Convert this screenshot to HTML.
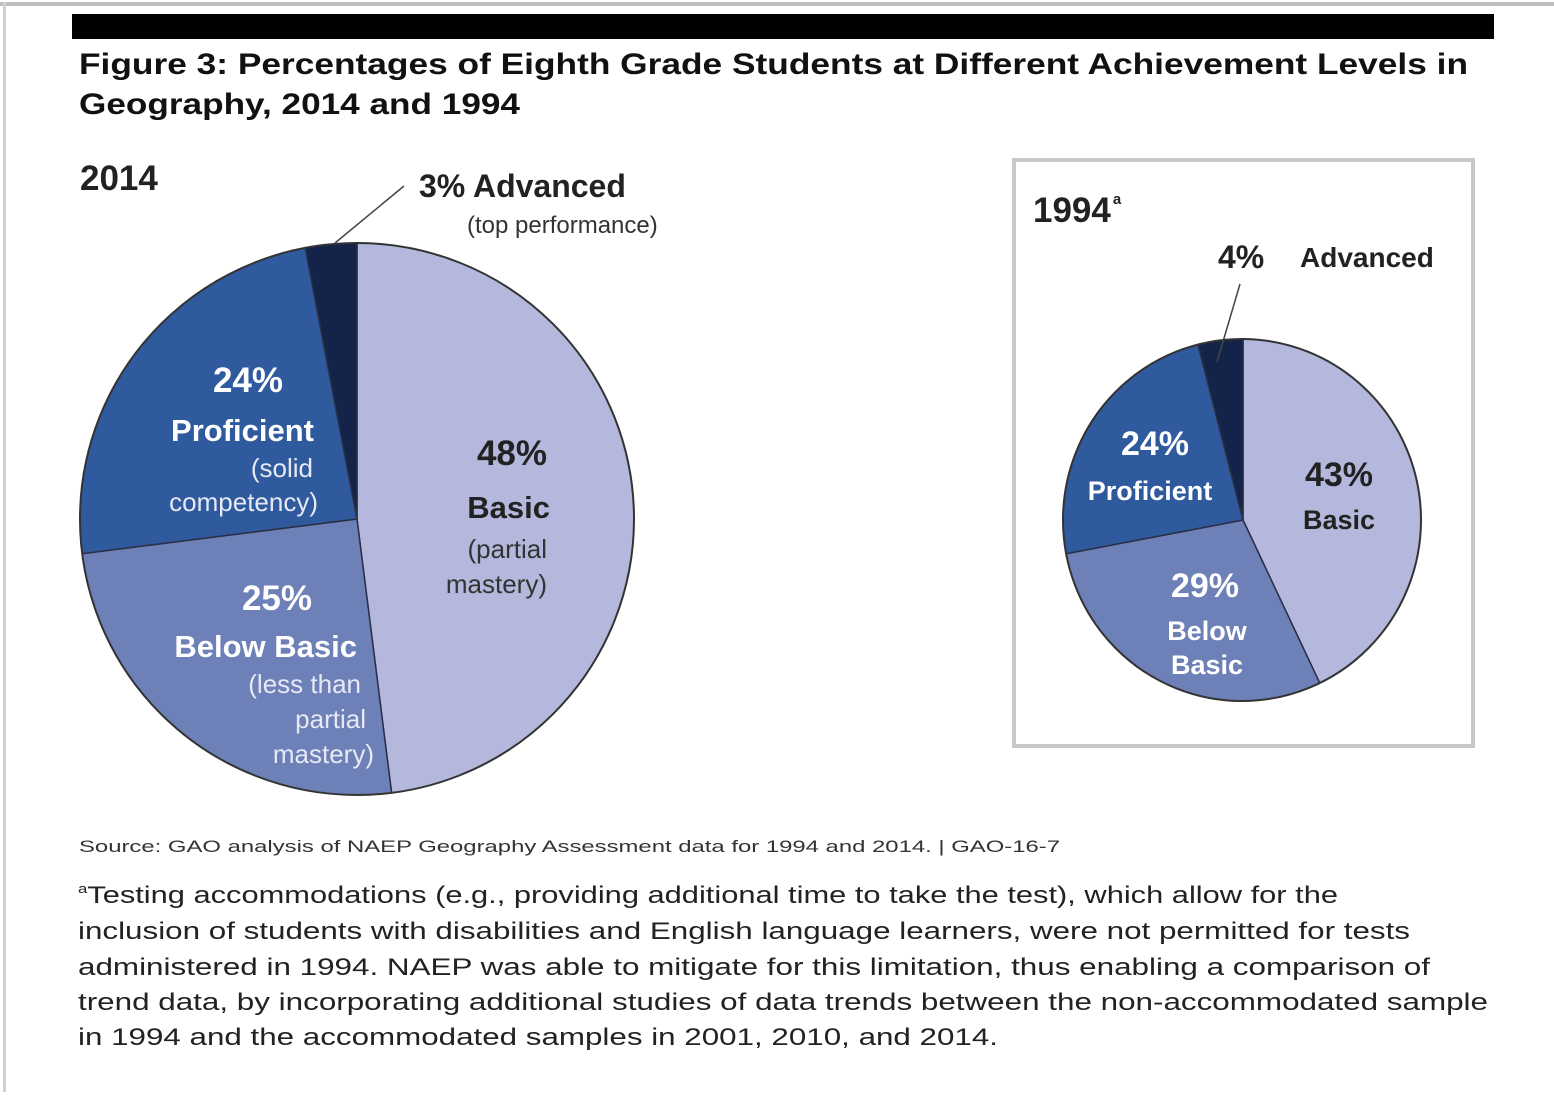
<!DOCTYPE html>
<html><head><meta charset="utf-8">
<style>
html,body{margin:0;padding:0;background:#fff;overflow:hidden;width:1554px;height:1095px;}
svg{display:block;font-family:"Liberation Sans",Arial,sans-serif;}
</style></head>
<body>
<svg width="1554" height="1095" viewBox="0 0 1554 1095">
<defs>
<clipPath id="clip2014"><ellipse cx="357" cy="519" rx="277" ry="276"/></clipPath>
<clipPath id="clip1994"><ellipse cx="1242" cy="520" rx="179" ry="181"/></clipPath>
</defs>
<rect x="0" y="2" width="1554" height="4" fill="#bdbdbd"/>
<rect x="3" y="2" width="3" height="1090" fill="#d0d0d0"/>
<rect x="72" y="14" width="1422" height="25" fill="#000"/>
<text x="79" y="74" font-size="30" font-weight="bold" fill="#111" textLength="1389" lengthAdjust="spacingAndGlyphs">Figure 3: Percentages of Eighth Grade Students at Different Achievement Levels in</text>
<text x="79" y="114" font-size="30" font-weight="bold" fill="#111" textLength="441" lengthAdjust="spacingAndGlyphs">Geography, 2014 and 1994</text>

<text x="80" y="190" font-size="35" font-weight="bold" fill="#222">2014</text>
<g id="pie2014" clip-path="url(#clip2014)"></g>
<ellipse cx="357" cy="519" rx="277" ry="276" fill="none" stroke="#333" stroke-width="2"/>
<line x1="335" y1="243" x2="404" y2="186" stroke="#444" stroke-width="1.5"/>
<text x="419" y="197" font-size="32" font-weight="bold" fill="#222">3%  Advanced</text>
<text x="467" y="233" font-size="24" fill="#333">(top performance)</text>

<g fill="#fff" text-anchor="end">
<text x="283" y="392" font-size="35" font-weight="bold">24%</text>
<text x="314" y="441" font-size="31" font-weight="bold">Proficient</text>
<text x="313" y="477" font-size="26" fill="#e6e9f4">(solid</text>
<text x="318" y="511" font-size="26" fill="#e6e9f4">competency)</text>
</g>
<g fill="#222" text-anchor="end">
<text x="547" y="465" font-size="35" font-weight="bold">48%</text>
<text x="550" y="518" font-size="31" font-weight="bold">Basic</text>
<text x="547" y="558" font-size="26" fill="#333">(partial</text>
<text x="547" y="593" font-size="26" fill="#333">mastery)</text>
</g>
<g fill="#fff" text-anchor="end">
<text x="312" y="610" font-size="35" font-weight="bold">25%</text>
<text x="357" y="657" font-size="31" font-weight="bold">Below Basic</text>
<text x="361" y="693" font-size="26" fill="#e6e9f4">(less than</text>
<text x="366" y="728" font-size="26" fill="#e6e9f4">partial</text>
<text x="374" y="763" font-size="26" fill="#e6e9f4">mastery)</text>
</g>

<rect x="1014" y="160" width="459" height="586" fill="none" stroke="#c8c8c8" stroke-width="4"/>
<text x="1033" y="222" font-size="35" font-weight="bold" fill="#222">1994<tspan font-size="15" dy="-18" dx="2">a</tspan></text>
<g id="pie1994" clip-path="url(#clip1994)"></g>
<ellipse cx="1242" cy="520" rx="179" ry="181" fill="none" stroke="#333" stroke-width="2"/>
<line x1="1217" y1="362" x2="1240" y2="284" stroke="#444" stroke-width="1.5"/>
<text x="1218" y="268" font-size="32" font-weight="bold" fill="#222">4%</text>
<text x="1300" y="267" font-size="28" font-weight="bold" fill="#222">Advanced</text>
<g fill="#fff" text-anchor="middle" font-weight="bold">
<text x="1155" y="455" font-size="34">24%</text>
<text x="1150" y="500" font-size="27">Proficient</text>
</g>
<g fill="#222" text-anchor="middle" font-weight="bold">
<text x="1339" y="486" font-size="34">43%</text>
<text x="1339" y="529" font-size="27">Basic</text>
</g>
<g fill="#fff" text-anchor="middle" font-weight="bold">
<text x="1205" y="597" font-size="34">29%</text>
<text x="1207" y="640" font-size="27">Below</text>
<text x="1207" y="674" font-size="27">Basic</text>
</g>

<text x="79" y="852" font-size="17" fill="#333" textLength="981" lengthAdjust="spacingAndGlyphs">Source: GAO analysis of NAEP Geography Assessment data for 1994 and 2014.  |  GAO-16-7</text>
<g font-size="24" fill="#222">
<text x="78" y="903" textLength="1260" lengthAdjust="spacingAndGlyphs"><tspan font-size="13" dy="-10">a</tspan><tspan dy="10">Testing accommodations (e.g., providing additional time to take the test), which allow for the</tspan></text>
<text x="78" y="939" textLength="1332" lengthAdjust="spacingAndGlyphs">inclusion of students with disabilities and English language learners, were not permitted for tests</text>
<text x="78" y="975" textLength="1352" lengthAdjust="spacingAndGlyphs">administered in 1994. NAEP was able to mitigate for this limitation, thus enabling a comparison of</text>
<text x="78" y="1010" textLength="1410" lengthAdjust="spacingAndGlyphs">trend data, by incorporating additional studies of data trends between the non-accommodated sample</text>
<text x="78" y="1045" textLength="920" lengthAdjust="spacingAndGlyphs">in 1994 and the accommodated samples in 2001, 2010, and 2014.</text>
</g>
</svg>
<script>
const categories = ["Basic", "Below Basic", "Proficient", "Advanced"];
const values2014 = [48, 25, 24, 3];
const values1994 = [43, 29, 24, 4];
const sliceColors = ["#b3b8dc", "#6e80b8", "#2f5a9e", "#14234a"];
const NS = "http://www.w3.org/2000/svg";
function drawPie(gid, values, cx, cy, R) {
  const g = document.getElementById(gid);
  const total = values.reduce((a, b) => a + b, 0);
  let acc = 0;
  values.forEach((v, i) => {
    const a0 = acc / total * 2 * Math.PI;
    acc += v;
    const a1 = acc / total * 2 * Math.PI;
    const steps = Math.max(2, Math.ceil((a1 - a0) / 0.05));
    let d = "M" + cx + "," + cy;
    for (let s = 0; s <= steps; s++) {
      const a = a0 + (a1 - a0) * s / steps;
      d += " L" + (cx + R * Math.sin(a)).toFixed(2) + "," + (cy - R * Math.cos(a)).toFixed(2);
    }
    d += " Z";
    const p = document.createElementNS(NS, "path");
    p.setAttribute("d", d);
    p.setAttribute("fill", sliceColors[i]);
    p.setAttribute("stroke", "#2a2f45");
    p.setAttribute("stroke-width", "1.5");
    
    
    g.appendChild(p);
  });
}
drawPie("pie2014", values2014, 357, 519, 300);
drawPie("pie1994", values1994, 1243, 520, 200);
</script>
</body></html>
